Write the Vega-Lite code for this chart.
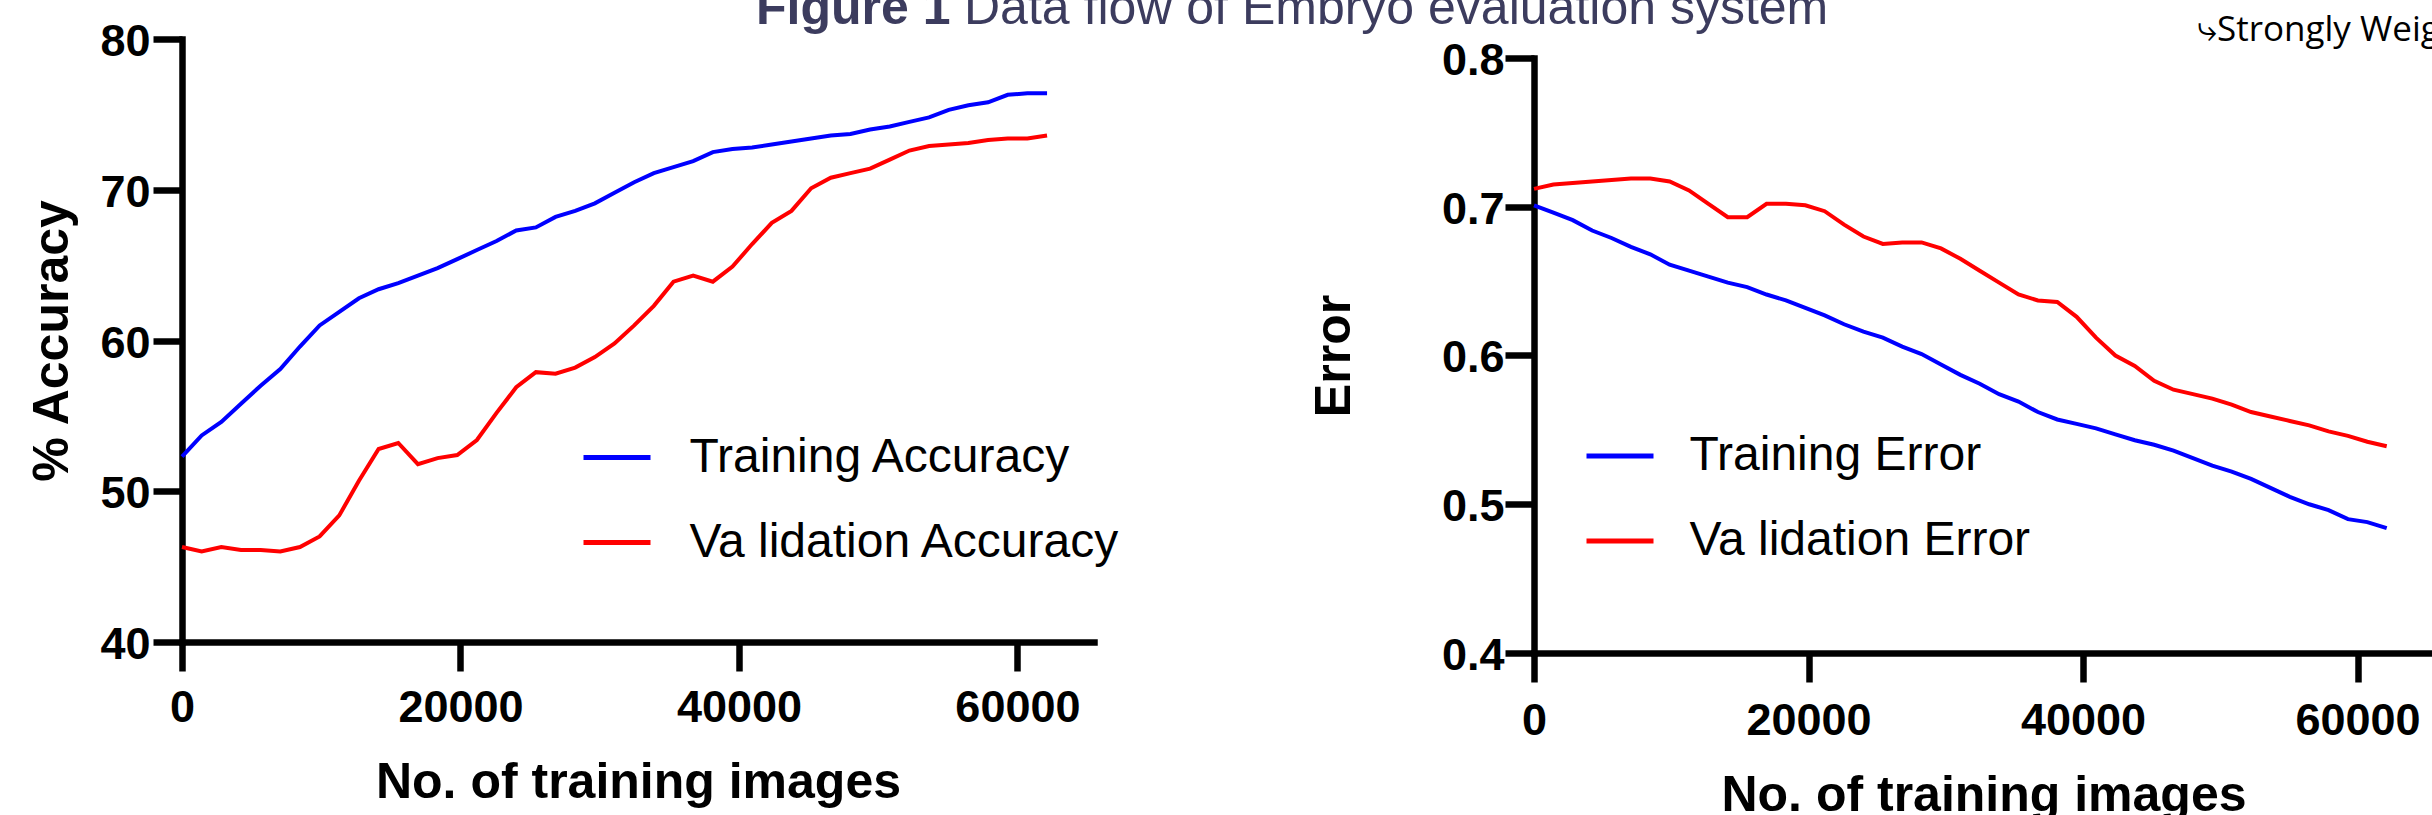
{
  "$schema": "https://vega.github.io/schema/vega-lite/v6.json",
  "autosize": {"type": "none"},
  "padding": {"left": 182, "top": 39, "right": 2250, "bottom": 776},
  "background": "white",
  "bounds": "flush",
  "title": {
    "text": "Data flow of Embryo evaluation system",
    "anchor": "start",
    "frame": "group",
    "dx": 782,
    "offset": -50,
    "font": "Liberation Sans",
    "fontSize": 50,
    "fontWeight": "normal",
    "color": "#3c3c5e"
  },
  "datasets": {
    "acc": [
      {"n": 0, "series": "Training Accuracy", "value": 52.3},
      {"n": 1412, "series": "Training Accuracy", "value": 53.7},
      {"n": 2824, "series": "Training Accuracy", "value": 54.6},
      {"n": 4236, "series": "Training Accuracy", "value": 55.8},
      {"n": 5648, "series": "Training Accuracy", "value": 57.0},
      {"n": 7060, "series": "Training Accuracy", "value": 58.1},
      {"n": 8472, "series": "Training Accuracy", "value": 59.6},
      {"n": 9884, "series": "Training Accuracy", "value": 61.0},
      {"n": 11296, "series": "Training Accuracy", "value": 61.9},
      {"n": 12708, "series": "Training Accuracy", "value": 62.8},
      {"n": 14120, "series": "Training Accuracy", "value": 63.4},
      {"n": 15532, "series": "Training Accuracy", "value": 63.8},
      {"n": 16944, "series": "Training Accuracy", "value": 64.3},
      {"n": 18356, "series": "Training Accuracy", "value": 64.8},
      {"n": 19768, "series": "Training Accuracy", "value": 65.4},
      {"n": 21180, "series": "Training Accuracy", "value": 66.0},
      {"n": 22592, "series": "Training Accuracy", "value": 66.6},
      {"n": 24004, "series": "Training Accuracy", "value": 67.3},
      {"n": 25416, "series": "Training Accuracy", "value": 67.5},
      {"n": 26828, "series": "Training Accuracy", "value": 68.2},
      {"n": 28240, "series": "Training Accuracy", "value": 68.6},
      {"n": 29652, "series": "Training Accuracy", "value": 69.1},
      {"n": 31064, "series": "Training Accuracy", "value": 69.8},
      {"n": 32476, "series": "Training Accuracy", "value": 70.5},
      {"n": 33888, "series": "Training Accuracy", "value": 71.1},
      {"n": 35300, "series": "Training Accuracy", "value": 71.5},
      {"n": 36712, "series": "Training Accuracy", "value": 71.9},
      {"n": 38124, "series": "Training Accuracy", "value": 72.5},
      {"n": 39536, "series": "Training Accuracy", "value": 72.7},
      {"n": 40948, "series": "Training Accuracy", "value": 72.8},
      {"n": 42360, "series": "Training Accuracy", "value": 73.0},
      {"n": 43772, "series": "Training Accuracy", "value": 73.2},
      {"n": 45184, "series": "Training Accuracy", "value": 73.4},
      {"n": 46596, "series": "Training Accuracy", "value": 73.6},
      {"n": 48008, "series": "Training Accuracy", "value": 73.7},
      {"n": 49420, "series": "Training Accuracy", "value": 74.0},
      {"n": 50832, "series": "Training Accuracy", "value": 74.2},
      {"n": 52244, "series": "Training Accuracy", "value": 74.5},
      {"n": 53656, "series": "Training Accuracy", "value": 74.8},
      {"n": 55068, "series": "Training Accuracy", "value": 75.3},
      {"n": 56480, "series": "Training Accuracy", "value": 75.6},
      {"n": 57892, "series": "Training Accuracy", "value": 75.8},
      {"n": 59304, "series": "Training Accuracy", "value": 76.3},
      {"n": 60716, "series": "Training Accuracy", "value": 76.4},
      {"n": 62128, "series": "Training Accuracy", "value": 76.4},
      {"n": 0, "series": "Va lidation Accuracy", "value": 46.3},
      {"n": 1412, "series": "Va lidation Accuracy", "value": 46.0},
      {"n": 2824, "series": "Va lidation Accuracy", "value": 46.3},
      {"n": 4236, "series": "Va lidation Accuracy", "value": 46.1},
      {"n": 5648, "series": "Va lidation Accuracy", "value": 46.1},
      {"n": 7060, "series": "Va lidation Accuracy", "value": 46.0},
      {"n": 8472, "series": "Va lidation Accuracy", "value": 46.3},
      {"n": 9884, "series": "Va lidation Accuracy", "value": 47.0},
      {"n": 11296, "series": "Va lidation Accuracy", "value": 48.4},
      {"n": 12708, "series": "Va lidation Accuracy", "value": 50.7},
      {"n": 14120, "series": "Va lidation Accuracy", "value": 52.8},
      {"n": 15532, "series": "Va lidation Accuracy", "value": 53.2},
      {"n": 16944, "series": "Va lidation Accuracy", "value": 51.8},
      {"n": 18356, "series": "Va lidation Accuracy", "value": 52.2},
      {"n": 19768, "series": "Va lidation Accuracy", "value": 52.4},
      {"n": 21180, "series": "Va lidation Accuracy", "value": 53.4},
      {"n": 22592, "series": "Va lidation Accuracy", "value": 55.2},
      {"n": 24004, "series": "Va lidation Accuracy", "value": 56.9},
      {"n": 25416, "series": "Va lidation Accuracy", "value": 57.9},
      {"n": 26828, "series": "Va lidation Accuracy", "value": 57.8},
      {"n": 28240, "series": "Va lidation Accuracy", "value": 58.2},
      {"n": 29652, "series": "Va lidation Accuracy", "value": 58.9},
      {"n": 31064, "series": "Va lidation Accuracy", "value": 59.8},
      {"n": 32476, "series": "Va lidation Accuracy", "value": 61.0},
      {"n": 33888, "series": "Va lidation Accuracy", "value": 62.3},
      {"n": 35300, "series": "Va lidation Accuracy", "value": 63.9},
      {"n": 36712, "series": "Va lidation Accuracy", "value": 64.3},
      {"n": 38124, "series": "Va lidation Accuracy", "value": 63.9},
      {"n": 39536, "series": "Va lidation Accuracy", "value": 64.9},
      {"n": 40948, "series": "Va lidation Accuracy", "value": 66.4},
      {"n": 42360, "series": "Va lidation Accuracy", "value": 67.8},
      {"n": 43772, "series": "Va lidation Accuracy", "value": 68.6},
      {"n": 45184, "series": "Va lidation Accuracy", "value": 70.1},
      {"n": 46596, "series": "Va lidation Accuracy", "value": 70.8},
      {"n": 48008, "series": "Va lidation Accuracy", "value": 71.1},
      {"n": 49420, "series": "Va lidation Accuracy", "value": 71.4},
      {"n": 50832, "series": "Va lidation Accuracy", "value": 72.0},
      {"n": 52244, "series": "Va lidation Accuracy", "value": 72.6},
      {"n": 53656, "series": "Va lidation Accuracy", "value": 72.9},
      {"n": 55068, "series": "Va lidation Accuracy", "value": 73.0},
      {"n": 56480, "series": "Va lidation Accuracy", "value": 73.1},
      {"n": 57892, "series": "Va lidation Accuracy", "value": 73.3},
      {"n": 59304, "series": "Va lidation Accuracy", "value": 73.4},
      {"n": 60716, "series": "Va lidation Accuracy", "value": 73.4},
      {"n": 62128, "series": "Va lidation Accuracy", "value": 73.6}
    ],
    "err": [
      {"n": 0, "series": "Training Error", "value": 0.701},
      {"n": 1412, "series": "Training Error", "value": 0.696},
      {"n": 2824, "series": "Training Error", "value": 0.691},
      {"n": 4236, "series": "Training Error", "value": 0.684},
      {"n": 5648, "series": "Training Error", "value": 0.679},
      {"n": 7060, "series": "Training Error", "value": 0.673},
      {"n": 8472, "series": "Training Error", "value": 0.668},
      {"n": 9884, "series": "Training Error", "value": 0.661},
      {"n": 11296, "series": "Training Error", "value": 0.657},
      {"n": 12708, "series": "Training Error", "value": 0.653},
      {"n": 14120, "series": "Training Error", "value": 0.649},
      {"n": 15532, "series": "Training Error", "value": 0.646},
      {"n": 16944, "series": "Training Error", "value": 0.641},
      {"n": 18356, "series": "Training Error", "value": 0.637},
      {"n": 19768, "series": "Training Error", "value": 0.632},
      {"n": 21180, "series": "Training Error", "value": 0.627},
      {"n": 22592, "series": "Training Error", "value": 0.621},
      {"n": 24004, "series": "Training Error", "value": 0.616},
      {"n": 25416, "series": "Training Error", "value": 0.612},
      {"n": 26828, "series": "Training Error", "value": 0.606},
      {"n": 28240, "series": "Training Error", "value": 0.601},
      {"n": 29652, "series": "Training Error", "value": 0.594},
      {"n": 31064, "series": "Training Error", "value": 0.587},
      {"n": 32476, "series": "Training Error", "value": 0.581},
      {"n": 33888, "series": "Training Error", "value": 0.574},
      {"n": 35300, "series": "Training Error", "value": 0.569},
      {"n": 36712, "series": "Training Error", "value": 0.562},
      {"n": 38124, "series": "Training Error", "value": 0.557},
      {"n": 39536, "series": "Training Error", "value": 0.554},
      {"n": 40948, "series": "Training Error", "value": 0.551},
      {"n": 42360, "series": "Training Error", "value": 0.547},
      {"n": 43772, "series": "Training Error", "value": 0.543},
      {"n": 45184, "series": "Training Error", "value": 0.540},
      {"n": 46596, "series": "Training Error", "value": 0.536},
      {"n": 48008, "series": "Training Error", "value": 0.531},
      {"n": 49420, "series": "Training Error", "value": 0.526},
      {"n": 50832, "series": "Training Error", "value": 0.522},
      {"n": 52244, "series": "Training Error", "value": 0.517},
      {"n": 53656, "series": "Training Error", "value": 0.511},
      {"n": 55068, "series": "Training Error", "value": 0.505},
      {"n": 56480, "series": "Training Error", "value": 0.500},
      {"n": 57892, "series": "Training Error", "value": 0.496},
      {"n": 59304, "series": "Training Error", "value": 0.490},
      {"n": 60716, "series": "Training Error", "value": 0.488},
      {"n": 62128, "series": "Training Error", "value": 0.484},
      {"n": 0, "series": "Va lidation Error", "value": 0.712},
      {"n": 1412, "series": "Va lidation Error", "value": 0.715},
      {"n": 2824, "series": "Va lidation Error", "value": 0.716},
      {"n": 4236, "series": "Va lidation Error", "value": 0.717},
      {"n": 5648, "series": "Va lidation Error", "value": 0.718},
      {"n": 7060, "series": "Va lidation Error", "value": 0.719},
      {"n": 8472, "series": "Va lidation Error", "value": 0.719},
      {"n": 9884, "series": "Va lidation Error", "value": 0.717},
      {"n": 11296, "series": "Va lidation Error", "value": 0.711},
      {"n": 12708, "series": "Va lidation Error", "value": 0.702},
      {"n": 14120, "series": "Va lidation Error", "value": 0.693},
      {"n": 15532, "series": "Va lidation Error", "value": 0.693},
      {"n": 16944, "series": "Va lidation Error", "value": 0.702},
      {"n": 18356, "series": "Va lidation Error", "value": 0.702},
      {"n": 19768, "series": "Va lidation Error", "value": 0.701},
      {"n": 21180, "series": "Va lidation Error", "value": 0.697},
      {"n": 22592, "series": "Va lidation Error", "value": 0.688},
      {"n": 24004, "series": "Va lidation Error", "value": 0.680},
      {"n": 25416, "series": "Va lidation Error", "value": 0.675},
      {"n": 26828, "series": "Va lidation Error", "value": 0.676},
      {"n": 28240, "series": "Va lidation Error", "value": 0.676},
      {"n": 29652, "series": "Va lidation Error", "value": 0.672},
      {"n": 31064, "series": "Va lidation Error", "value": 0.665},
      {"n": 32476, "series": "Va lidation Error", "value": 0.657},
      {"n": 33888, "series": "Va lidation Error", "value": 0.649},
      {"n": 35300, "series": "Va lidation Error", "value": 0.641},
      {"n": 36712, "series": "Va lidation Error", "value": 0.637},
      {"n": 38124, "series": "Va lidation Error", "value": 0.636},
      {"n": 39536, "series": "Va lidation Error", "value": 0.626},
      {"n": 40948, "series": "Va lidation Error", "value": 0.612},
      {"n": 42360, "series": "Va lidation Error", "value": 0.600},
      {"n": 43772, "series": "Va lidation Error", "value": 0.593},
      {"n": 45184, "series": "Va lidation Error", "value": 0.583},
      {"n": 46596, "series": "Va lidation Error", "value": 0.577},
      {"n": 48008, "series": "Va lidation Error", "value": 0.574},
      {"n": 49420, "series": "Va lidation Error", "value": 0.571},
      {"n": 50832, "series": "Va lidation Error", "value": 0.567},
      {"n": 52244, "series": "Va lidation Error", "value": 0.562},
      {"n": 53656, "series": "Va lidation Error", "value": 0.559},
      {"n": 55068, "series": "Va lidation Error", "value": 0.556},
      {"n": 56480, "series": "Va lidation Error", "value": 0.553},
      {"n": 57892, "series": "Va lidation Error", "value": 0.549},
      {"n": 59304, "series": "Va lidation Error", "value": 0.546},
      {"n": 60716, "series": "Va lidation Error", "value": 0.542},
      {"n": 62128, "series": "Va lidation Error", "value": 0.539}
    ]
  },
  "spacing": 440,
  "hconcat": [
    {
      "width": 912,
      "height": 603,
      "title": {"text": "Figure 1", "anchor": "start", "frame": "group", "dx": 574, "offset": -14.5, "font": "Liberation Sans", "fontSize": 50, "fontWeight": "bold", "color": "#3c3c5e"},
      "data": {"name": "acc"},
      "mark": {"type": "line", "strokeWidth": 4},
      "encoding": {
        "x": {
          "field": "n", "type": "quantitative",
          "scale": {"domain": [0, 65500], "nice": false, "zero": false},
          "axis": {"values": [0, 20000, 40000, 60000], "format": "d", "title": "No. of training images", "labelPadding": 14, "titlePadding": 27.8}
        },
        "y": {
          "field": "value", "type": "quantitative",
          "scale": {"domain": [40, 80], "nice": false, "zero": false},
          "axis": {"values": [40, 50, 60, 70, 80], "format": "d", "title": "% Accuracy", "labelPadding": 3, "titlePadding": 22.5, "labelOffset": 2.5}
        },
        "color": {
          "field": "series", "type": "nominal",
          "scale": {"domain": ["Training Accuracy", "Va lidation Accuracy"], "range": ["#0000ff", "#ff0000"]},
          "legend": {"orient": "none", "legendX": 399, "legendY": 395, "labelOffset": 36.5, "title": null, "symbolStrokeWidth": 5}
        }
      }
    },
    {
      "width": 899,
      "height": 614,
      "title": {"text": "⤷Strongly Weig", "anchor": "start", "frame": "group", "dx": 663, "offset": -9.6, "font": "Open Sans", "fontSize": 35, "fontWeight": "normal", "color": "#000000"},
      "data": {"name": "err"},
      "mark": {"type": "line", "strokeWidth": 4},
      "encoding": {
        "x": {
          "field": "n", "type": "quantitative",
          "scale": {"domain": [0, 65500], "nice": false, "zero": false},
          "axis": {"values": [0, 20000, 40000, 60000], "format": "d", "title": "No. of training images", "labelPadding": 16, "titlePadding": 27.8}
        },
        "y": {
          "field": "value", "type": "quantitative",
          "scale": {"domain": [0.4, 0.81277], "nice": false, "zero": false},
          "axis": {"values": [0.4, 0.5, 0.6, 0.7, 0.8], "format": ".1f", "title": "Error", "labelPadding": 1, "titlePadding": 82, "labelOffset": 2.5, "titleY": 316.5, "domainDash": [595, 2000]}
        },
        "color": {
          "field": "series", "type": "nominal",
          "scale": {"domain": ["Training Error", "Va lidation Error"], "range": ["#0000ff", "#ff0000"]},
          "legend": {"orient": "none", "legendX": 50, "legendY": 393.5, "labelOffset": 33.5, "title": null, "symbolStrokeWidth": 5}
        }
      }
    }
  ],
  "resolve": {"scale": {"color": "independent"}, "legend": {"color": "independent"}},
  "config": {
    "view": {"stroke": null},
    "axis": {
      "domainColor": "#000000", "domainWidth": 6.5, "domainCap": "square",
      "tickColor": "#000000", "tickWidth": 6.5, "tickSize": 29,
      "grid": false,
      "labelFont": "Liberation Sans", "labelFontSize": 45, "labelFontWeight": "bold", "labelColor": "#000000",
      "labelFlush": false, "labelOverlap": false, "labelBound": false,
      "titleFont": "Liberation Sans", "titleFontSize": 50, "titleFontWeight": "bold", "titleColor": "#000000"
    },
    "legend": {
      "symbolType": "stroke", "symbolSize": 4489,
      "labelFont": "Liberation Sans", "labelFontSize": 48, "labelColor": "#000000",
      "padding": 0, "rowPadding": 36, "clipHeight": 47, "labelLimit": 2000
    }
  }
}
